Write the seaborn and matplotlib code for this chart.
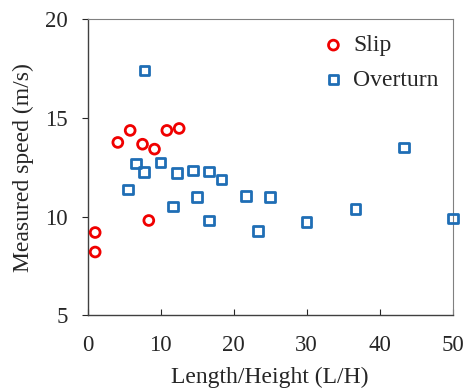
import numpy as np
import pandas as pd
import matplotlib
matplotlib.use("Agg")
import matplotlib.pyplot as plt
import seaborn as sns

# -------------------------------
# Data
# -------------------------------
slip_lh = [1.05, 1.05, 4.15, 5.84, 7.53, 9.17, 8.39, 10.86, 12.55]
slip_speed = [9.19, 8.20, 13.76, 14.37, 13.67, 13.42, 9.80, 14.37, 14.47]

over_lh = [7.80, 5.57, 6.66, 7.76, 9.99, 11.68, 12.23, 14.46, 15.01, 16.65,
           16.65, 18.34, 21.67, 23.31, 25.00, 29.97, 36.68, 43.34, 50.00]
over_speed = [17.40, 11.37, 12.69, 12.25, 12.73, 10.50, 12.20, 12.34, 10.99, 12.29,
              9.80, 11.87, 11.05, 9.26, 11.00, 9.73, 10.38, 13.51, 9.90]

x_ticks = [0, 10, 20, 30, 40, 50]
y_ticks = [5, 10, 15, 20]

df = pd.concat([
    pd.DataFrame({"LH": slip_lh, "Speed": slip_speed, "Mode": "Slip"}),
    pd.DataFrame({"LH": over_lh, "Speed": over_speed, "Mode": "Overturn"}),
], ignore_index=True)

# -------------------------------
# Style
# -------------------------------
sns.set_style("ticks")
plt.rcParams["font.family"] = ["Liberation Serif", "DejaVu Serif"]

COLORS = {"Slip": "#F00000", "Overturn": "#1F6EB5"}
MARKERS = {"Slip": "o", "Overturn": "s"}

fig = plt.figure(figsize=(4.63, 3.89), dpi=100)
ax = fig.add_axes([0.189, 0.190, 0.789, 0.760])

for mode in ["Slip", "Overturn"]:
    sub = df[df["Mode"] == mode]
    sns.scatterplot(
        data=sub, x="LH", y="Speed",
        marker=MARKERS[mode],
        s=50 if mode == "Slip" else 46,
        facecolors="none",
        edgecolors=COLORS[mode],
        linewidth=2.0,
        label=mode,
        clip_on=False,
        zorder=3,
        ax=ax,
    )

ax.set_xlim(0, 50)
ax.set_ylim(5, 20)
ax.set_xticks(x_ticks)
ax.set_yticks(y_ticks)
ax.tick_params(axis="x", direction="in", length=4, labelsize=16.5, pad=14)
ax.tick_params(axis="y", direction="out", length=4, labelsize=16.5, pad=10)

ax.set_xlabel("Length/Height (L/H)", fontsize=17, labelpad=8)
ax.set_ylabel("Measured speed (m/s)", fontsize=17, labelpad=8)

for side in ["left", "bottom"]:
    ax.spines[side].set_color("#404040")
    ax.spines[side].set_linewidth(1.0)
for side in ["top", "right"]:
    ax.spines[side].set_color("#808080")
    ax.spines[side].set_linewidth(0.8)

ax.legend(
    loc="upper right",
    bbox_to_anchor=(1.02, 1.02),
    frameon=False,
    fontsize=17,
    handlelength=1.0,
    handletextpad=0.35,
    labelspacing=0.55,
    borderaxespad=0.5,
)

fig.savefig("out.png", dpi=100)
